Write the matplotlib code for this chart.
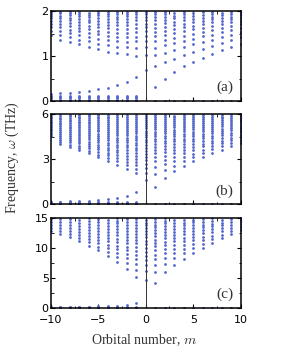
import matplotlib.pyplot as plt
from matplotlib.ticker import MultipleLocator

# orbital numbers
m_vals = list(range(-10, 11))
m_neg = list(range(-10, 0))
m_pos = list(range(1, 11))

# panel (a): upper branch, one list per m (-10 .. 10), THz
upper_a = [
    [1.47, 1.56, 1.64, 1.71, 1.78, 1.84, 1.89, 1.94, 1.98],
    [1.37, 1.47, 1.56, 1.64, 1.71, 1.78, 1.84, 1.90, 1.95, 1.99],
    [1.32, 1.42, 1.51, 1.59, 1.67, 1.74, 1.80, 1.86, 1.91, 1.96, 2.0],
    [1.26, 1.37, 1.47, 1.55, 1.63, 1.70, 1.77, 1.83, 1.89, 1.94, 1.98],
    [1.21, 1.33, 1.43, 1.52, 1.60, 1.68, 1.75, 1.81, 1.87, 1.92, 1.97],
    [1.16, 1.28, 1.39, 1.49, 1.57, 1.65, 1.72, 1.79, 1.85, 1.91, 1.96, 2.0],
    [1.10, 1.24, 1.35, 1.45, 1.54, 1.62, 1.70, 1.77, 1.83, 1.89, 1.94, 1.99],
    [1.07, 1.21, 1.33, 1.43, 1.52, 1.61, 1.69, 1.76, 1.82, 1.88, 1.94, 1.98],
    [1.04, 1.20, 1.32, 1.42, 1.52, 1.61, 1.69, 1.76, 1.83, 1.89, 1.94, 1.99],
    [1.01, 1.19, 1.33, 1.43, 1.53, 1.63, 1.72, 1.80, 1.87, 1.93, 1.98],
    [0.69, 1.02, 1.20, 1.34, 1.45, 1.55, 1.64, 1.72, 1.80, 1.87, 1.93, 1.98],
    [0.31, 0.77, 1.03, 1.19, 1.33, 1.44, 1.54, 1.63, 1.72, 1.80, 1.87, 1.93, 1.98],
    [0.50, 0.87, 1.08, 1.24, 1.36, 1.47, 1.57, 1.66, 1.74, 1.81, 1.88, 1.94, 1.99],
    [0.64, 0.94, 1.14, 1.29, 1.41, 1.51, 1.60, 1.69, 1.77, 1.84, 1.90, 1.96],
    [0.77, 1.03, 1.20, 1.34, 1.45, 1.55, 1.64, 1.72, 1.80, 1.87, 1.93, 1.98],
    [0.87, 1.10, 1.26, 1.39, 1.50, 1.60, 1.68, 1.76, 1.83, 1.90, 1.96],
    [0.97, 1.17, 1.32, 1.44, 1.54, 1.63, 1.72, 1.79, 1.86, 1.92, 1.98],
    [1.04, 1.23, 1.37, 1.48, 1.58, 1.67, 1.75, 1.82, 1.88, 1.94, 1.99],
    [1.13, 1.29, 1.42, 1.53, 1.62, 1.71, 1.78, 1.85, 1.91, 1.96],
    [1.21, 1.36, 1.48, 1.58, 1.67, 1.75, 1.82, 1.88, 1.93, 1.98],
    [1.28, 1.42, 1.53, 1.63, 1.71, 1.78, 1.85, 1.91, 1.96],
]
# lowest rising mode for m < 0 and the near-zero stack
rise_a = [0.16, 0.17, 0.19, 0.21, 0.23, 0.26, 0.30, 0.35, 0.42, 0.53]
stack_a = [0.0, 0.03, 0.06, 0.09, 0.12]

# panel (b)
upper_b = [
    [4.54, 4.67, 4.80, 4.93, 5.05, 5.17, 5.29, 5.41, 5.52, 5.63, 5.74, 5.85, 5.95],
    [4.03, 4.17, 4.31, 4.45, 4.58, 4.71, 4.84, 4.97, 5.09, 5.21, 5.33, 5.45, 5.57, 5.68, 5.79, 5.90, 6.0],
    [3.83, 3.98, 4.13, 4.27, 4.41, 4.55, 4.68, 4.81, 4.94, 5.07, 5.19, 5.31, 5.43, 5.55, 5.66, 5.77, 5.88, 5.98],
    [3.60, 3.76, 3.92, 4.07, 4.22, 4.36, 4.50, 4.64, 4.77, 4.90, 5.03, 5.16, 5.28, 5.40, 5.52, 5.64, 5.75, 5.86, 5.97],
    [3.40, 3.57, 3.73, 3.89, 4.04, 4.19, 4.34, 4.48, 4.62, 4.76, 4.89, 5.02, 5.15, 5.28, 5.40, 5.52, 5.64, 5.76, 5.87, 5.98],
    [3.14, 3.32, 3.50, 3.67, 3.83, 3.99, 4.14, 4.29, 4.44, 4.58, 4.72, 4.86, 4.99, 5.12, 5.25, 5.38, 5.50, 5.62, 5.74, 5.86, 5.97],
    [2.88, 3.08, 3.27, 3.45, 3.62, 3.79, 3.95, 4.11, 4.26, 4.41, 4.56, 4.70, 4.84, 4.98, 5.11, 5.24, 5.37, 5.50, 5.62, 5.74, 5.86, 5.98],
    [2.64, 2.86, 3.07, 3.27, 3.46, 3.64, 3.81, 3.98, 4.14, 4.30, 4.45, 4.60, 4.75, 4.89, 5.03, 5.17, 5.30, 5.43, 5.56, 5.69, 5.81, 5.93],
    [2.35, 2.60, 2.83, 3.05, 3.25, 3.44, 3.62, 3.80, 3.97, 4.13, 4.29, 4.45, 4.60, 4.75, 4.89, 5.03, 5.17, 5.31, 5.44, 5.57, 5.70, 5.82, 5.94],
    [2.10, 2.36, 2.60, 2.83, 3.04, 3.24, 3.43, 3.61, 3.79, 3.96, 4.12, 4.28, 4.44, 4.59, 4.74, 4.89, 5.03, 5.17, 5.31, 5.44, 5.57, 5.70, 5.83, 5.95],
    [1.63, 2.08, 2.42, 2.70, 2.95, 3.18, 3.39, 3.59, 3.78, 3.96, 4.13, 4.30, 4.46, 4.62, 4.77, 4.92, 5.07, 5.21, 5.35, 5.49, 5.62, 5.75, 5.88, 6.0],
    [1.17, 2.03, 2.52, 2.86, 3.15, 3.40, 3.62, 3.83, 4.02, 4.20, 4.37, 4.54, 4.70, 4.85, 5.00, 5.15, 5.29, 5.43, 5.56, 5.69, 5.82, 5.94],
    [1.76, 2.30, 2.68, 2.98, 3.24, 3.47, 3.68, 3.88, 4.06, 4.24, 4.41, 4.57, 4.73, 4.88, 5.03, 5.17, 5.31, 5.45, 5.58, 5.71, 5.84, 5.96],
    [2.19, 2.58, 2.90, 3.17, 3.41, 3.63, 3.83, 4.02, 4.20, 4.37, 4.53, 4.69, 4.84, 4.99, 5.13, 5.27, 5.41, 5.54, 5.67, 5.80, 5.92],
    [2.56, 2.88, 3.16, 3.41, 3.63, 3.84, 4.03, 4.21, 4.38, 4.55, 4.71, 4.86, 5.01, 5.15, 5.29, 5.43, 5.56, 5.69, 5.82, 5.94],
    [2.86, 3.14, 3.39, 3.62, 3.83, 4.02, 4.20, 4.37, 4.54, 4.70, 4.85, 5.00, 5.14, 5.28, 5.42, 5.55, 5.68, 5.81, 5.93],
    [3.17, 3.42, 3.65, 3.86, 4.05, 4.23, 4.40, 4.56, 4.72, 4.87, 5.02, 5.16, 5.30, 5.43, 5.56, 5.69, 5.82, 5.94],
    [3.44, 3.67, 3.88, 4.07, 4.25, 4.42, 4.58, 4.74, 4.89, 5.04, 5.18, 5.32, 5.45, 5.58, 5.71, 5.84, 5.96],
    [3.64, 3.86, 4.06, 4.25, 4.43, 4.60, 4.76, 4.91, 5.06, 5.20, 5.34, 5.47, 5.60, 5.73, 5.86, 5.98],
    [3.87, 4.08, 4.27, 4.45, 4.62, 4.78, 4.94, 5.09, 5.23, 5.37, 5.50, 5.63, 5.76, 5.88, 6.0],
    [4.10, 4.30, 4.48, 4.65, 4.81, 4.97, 5.12, 5.26, 5.40, 5.53, 5.66, 5.79, 5.91],
]
rise_b = [0.17, 0.18, 0.19, 0.21, 0.24, 0.27, 0.32, 0.40, 0.52, 0.80]
stack_b = [0.0, 0.06, 0.12]

# panel (c)
upper_c = [
    [12.8, 13.3, 13.8, 14.3, 14.75],
    [12.4, 12.9, 13.4, 13.9, 14.4, 14.85],
    [11.8, 12.3, 12.8, 13.3, 13.8, 14.3, 14.8],
    [11.1, 11.65, 12.2, 12.7, 13.2, 13.7, 14.2, 14.7],
    [10.4, 10.95, 11.5, 12.05, 12.55, 13.05, 13.55, 14.05, 14.5, 14.95],
    [9.6, 10.2, 10.8, 11.35, 11.9, 12.4, 12.9, 13.4, 13.9, 14.4, 14.85],
    [8.65, 9.3, 9.95, 10.55, 11.1, 11.65, 12.2, 12.7, 13.2, 13.7, 14.2, 14.65],
    [7.7, 8.45, 9.15, 9.8, 10.4, 11.0, 11.55, 12.1, 12.6, 13.1, 13.6, 14.1, 14.55, 15.0],
    [6.55, 7.45, 8.25, 8.95, 9.6, 10.2, 10.8, 11.35, 11.9, 12.4, 12.9, 13.4, 13.9, 14.35, 14.8],
    [5.15, 6.35, 7.3, 8.1, 8.85, 9.5, 10.15, 10.75, 11.3, 11.85, 12.35, 12.85, 13.35, 13.85, 14.3, 14.75],
    [4.6, 6.1, 7.1, 7.95, 8.7, 9.4, 10.05, 10.65, 11.2, 11.75, 12.3, 12.8, 13.3, 13.75, 14.2, 14.65],
    [4.2, 5.95, 7.15, 8.1, 8.9, 9.6, 10.25, 10.85, 11.4, 11.95, 12.45, 12.95, 13.45, 13.9, 14.35, 14.8],
    [5.95, 7.3, 8.3, 9.1, 9.8, 10.45, 11.05, 11.6, 12.15, 12.65, 13.15, 13.65, 14.1, 14.55, 15.0],
    [7.2, 8.25, 9.1, 9.85, 10.5, 11.1, 11.65, 12.2, 12.7, 13.2, 13.7, 14.15, 14.6],
    [8.2, 9.1, 9.85, 10.55, 11.15, 11.7, 12.25, 12.75, 13.25, 13.75, 14.2, 14.65],
    [9.2, 9.95, 10.65, 11.25, 11.8, 12.35, 12.85, 13.35, 13.8, 14.25, 14.7],
    [10.0, 10.7, 11.35, 11.9, 12.45, 12.95, 13.45, 13.9, 14.35, 14.8],
    [10.8, 11.45, 12.05, 12.6, 13.1, 13.6, 14.05, 14.5, 14.95],
    [11.6, 12.2, 12.75, 13.25, 13.75, 14.2, 14.65],
    [12.3, 12.85, 13.35, 13.85, 14.3, 14.75],
    [13.0, 13.5, 14.0, 14.45, 14.9],
]
rise_c = [0.2, 0.2, 0.2, 0.2, 0.2, 0.25, 0.3, 0.35, 0.5, 0.85]
stack_c = [0.0, 0.1]

panels = [
    (upper_a, rise_a, stack_a, 2, 1, 0.5, '(a)'),
    (upper_b, rise_b, stack_b, 6, 3, 1.5, '(b)'),
    (upper_c, rise_c, stack_c, 15, 5, 2.5, '(c)'),
]

plt.rcParams['mathtext.fontset'] = 'cm'
dot_color = '#5467cc'
ms = 2.0

fig = plt.figure(figsize=(2.99, 3.51), dpi=100)
bottoms = [0.712, 0.418, 0.123]
axes = [fig.add_axes([0.170, b, 0.635, 0.256]) for b in bottoms]

for ax, (upper, rise, stack, ymax, major, minor, tag) in zip(axes, panels):
    for m, col in zip(m_vals, upper):
        ax.plot([m] * len(col), col, 'o', ms=ms, mew=0, color=dot_color)
    ax.plot(m_neg, rise, 'o', ms=ms, mew=0, color=dot_color)
    for m in m_neg:
        ax.plot([m] * len(stack), stack, 'o', ms=ms, mew=0, color=dot_color)
    ax.plot(m_pos, [0.0] * len(m_pos), 'o', ms=ms, mew=0, color=dot_color)
    ax.axvline(0, color='#333333', lw=0.7)

    ax.set_xlim(-10, 10)
    ax.set_ylim(0, ymax)
    ax.yaxis.set_major_locator(MultipleLocator(major))
    ax.yaxis.set_minor_locator(MultipleLocator(minor))
    ax.xaxis.set_major_locator(MultipleLocator(5))
    ax.xaxis.set_minor_locator(MultipleLocator(2.5))
    ax.tick_params(which='both', direction='in', top=True, right=True,
                   labelsize=8, pad=1.5)
    ax.tick_params(axis='x', pad=5)
    ax.tick_params(which='major', length=3, width=0.8)
    ax.tick_params(which='minor', length=1.8, width=0.6)
    for s in ax.spines.values():
        s.set_linewidth(1.1)
    ax.text(0.915, 0.15, tag, transform=ax.transAxes, ha='center', va='center',
            fontsize=11, family='Liberation Serif', color='#333333')
    if ax is not axes[-1]:
        ax.tick_params(labelbottom=False)

fig.text(0.04, 0.55, r'Frequency, $\omega$ (THz)', rotation=90, ha='center',
         va='center', fontsize=10, family='Liberation Serif', color='#333333')
fig.text(0.482, 0.03, r'Orbital number, $m$', ha='center', va='center',
         fontsize=10, family='Liberation Serif', color='#333333')

fig.savefig('out.png', dpi=100)
